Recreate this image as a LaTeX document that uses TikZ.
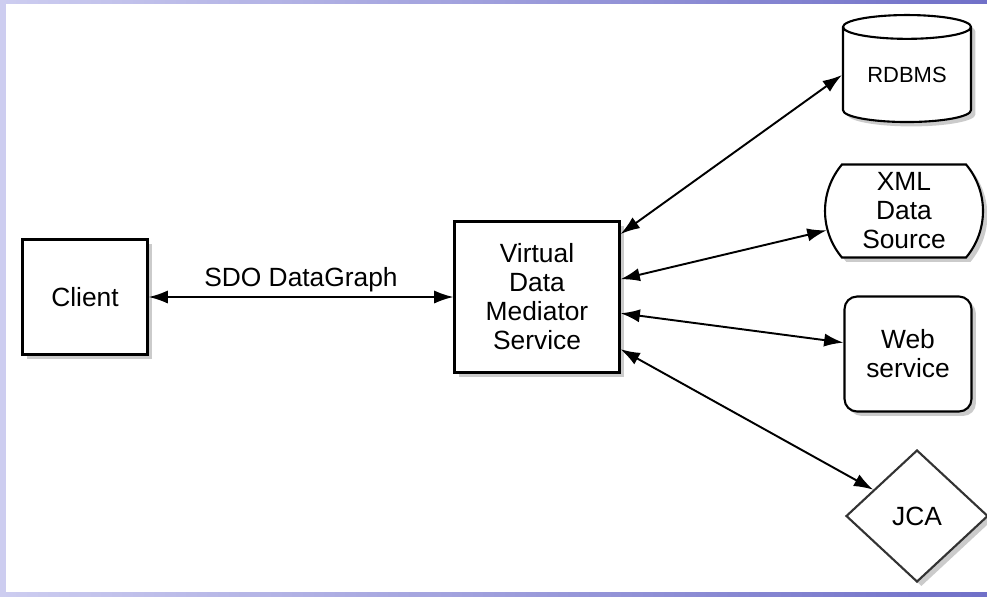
\documentclass[tikz,border=0pt]{standalone}
\usepackage{fontspec}
\setmainfont{Liberation Sans}
\usetikzlibrary{shapes.geometric,shapes.misc,shadows,arrows.meta}
\begin{document}
\begin{tikzpicture}[x=0.02cm,y=-0.02cm]
    \tikzstyle{part}=[draw=black,line width=1.2pt,fill=white,align=center,inner sep=0pt,font=\fontsize{15}{16.5}\selectfont,drop shadow={shadow xshift=2.5pt,shadow yshift=-2.5pt,fill=black!40}]
    \tikzstyle{link}=[line width=1.1pt,{Latex[length=11pt,width=7.5pt]}-{Latex[length=11pt,width=7.5pt]}]
    \useasboundingbox (0,0) rectangle (987,596);
    % slide frame
    \shade[left color={rgb,255:red,205;green,205;blue,240},right color={rgb,255:red,112;green,112;blue,200}] (0,0) rectangle (987,596);
    \fill[white] (6,4) rectangle (987,592);
    \node[part,minimum width=2.5cm,minimum height=2.3cm] (client) at (85,297) {Client};
    \node[part,minimum width=3.3cm,minimum height=3.02cm] (vdms) at (537,297) {Virtual\\Data\\Mediator\\Service};
    \node[part,cylinder,shape border rotate=90,aspect=0.3,minimum width=2.56cm,minimum height=2.14cm,font=\fontsize{12.5}{14}\selectfont] (rdbms) at (907,75) {RDBMS};
    \node[part,rounded rectangle,rounded rectangle arc length=80,minimum width=3.16cm,minimum height=1.86cm] (xml) at (904,211) {XML\\Data\\Source};
    \node[part,rounded corners=0.25cm,minimum width=2.54cm,minimum height=2.3cm] (web) at (908,354) {Web\\service};
    \node[part,diamond,draw=black!80,minimum width=2.84cm,minimum height=2.64cm] (jca) at (917,516) {JCA};
    \draw[link] (client.east) -- node[above=2.5pt,inner sep=0pt,font=\fontsize{15}{16.5}\selectfont] {SDO DataGraph} (vdms.west);
    \draw[link] (vdms.37) -- (rdbms.west);
    \draw[link] (vdms.12) -- (xml.194);
    \draw[link] (vdms.-11) -- (web.170);
    \draw[link] (vdms.-32) -- (jca.149);
\end{tikzpicture}
\end{document}
